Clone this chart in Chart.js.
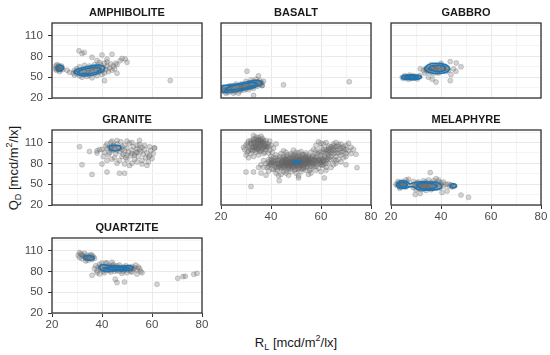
<!DOCTYPE html>
<html>
<head>
<meta charset="utf-8">
<script src="https://cdn.jsdelivr.net/npm/chart.js@4.4.1/dist/chart.umd.min.js"></script>
<style>
  body { margin: 0; background: #fff; }
  #wrap { position: relative; width: 550px; height: 355px; overflow: hidden; font-family: "Liberation Sans", Arial, sans-serif; }
  #wrap canvas { position: absolute; }
  .axis-title { position: absolute; font-size: 13px; color: #1a1a1a; white-space: nowrap; line-height: 1; }
  .axis-title sub, .axis-title sup { font-size: 9px; line-height: 0; }
  #xTitle { left: 296px; top: 342px; transform: translate(-50%, -50%); }
  #yTitle { left: 13px; top: 168px; transform: translate(-50%, -50%) rotate(-90deg); }
</style>
</head>
<body>
<div id="wrap">
  <div class="axis-title" id="xTitle">R<sub>L</sub> [mcd/m<sup>2</sup>/lx]</div>
  <div class="axis-title" id="yTitle">Q<sub>D</sub> [mcd/m<sup>2</sup>/lx]</div>
</div>
<script>
const panelNames = ['AMPHIBOLITE', 'BASALT', 'GABBRO', 'GRANITE', 'LIMESTONE', 'MELAPHYRE', 'QUARTZITE'];
const xTicks = [20, 30, 40, 50, 60, 70, 80];
const xLabels = [20, 40, 60, 80];
const yTicks = [20, 35, 50, 65, 80, 95, 110, 125];
const yLabels = [20, 50, 80, 110];

// points, [R_L, Q_D]
const amphibolitePts = [
  [21.5,66],[22,63],[22.5,61],[23,65],[23.5,62],[22,68],[21.8,60],[24,64],[23,58],[22.6,67],[24.3,61],[21.4,62],[23.8,66],[22.3,64.5],[23.2,60.5],
  [28.5,56],[29,53],[29.5,58],[30,55],[30.5,60],[31,52],[31.5,57],[32,61],[32.5,54],[33,58],[33.5,63],[34,56],[34.5,60],[35,53],[35.5,62],
  [36,58],[36.5,64],[37,55],[37.5,60],[38,66],[38.5,57],[39,62],[39.5,68],[40,59],[40.5,64],[41,70],[41.5,61],[42,66],[42.5,58],[43,63],
  [30,62],[31,65],[32,50],[33,67],[34,51],[35,66],[36,49],[37,68],[38,52],[39,71],[40,54],[41,56],[42,72],[43.5,69],[44,60],[44.5,66],
  [45,62],[33,54],[35,57],[37,63],[39,60],[36,61],[34,59],[38,62],[40,62],[29,60],[27,57],[26,60],[45.5,70],[46,68],
  [30.8,88],[32,84],[32.9,85.7],[36,78.6],[40,82],[44,83],[47.3,73.8],[49.3,76],[48,77],[46,55.7],[67.3,45.2],[41,45],[50,71.4],[42,76],[38,74]
];
const basaltPts = [
  [20.5,30],[21,33],[21.5,29],[22,35],[22.5,31],[23,28],[23.5,34],[24,30],[24.5,36],[25,32],[25.5,29],[26,35],[26.5,38],[27,33],[27.5,30],
  [28,37],[28.5,34],[29,40],[29.5,36],[30,33],[30.5,39],[31,42],[31.5,37],[32,35],[32.5,41],[33,44],[33.5,39],[34,43],[34.5,37],[35,41],
  [35.5,45],[36,40],[36.5,38],[21,36],[22,32],[23,37],[24,33],[25,27],[26,31],[27,36],[28,32],[29,35],[30,38],[31,35],[32,39],[33,37],
  [34,40],[35,43],[36.3,42],[24,38],[26,40],[28,40],[30,44],[32,46],[34,47],[27,27],[29,31],[31,32],[33,34],[22,27],[20.8,32],[25,34],
  [23,32],[28,35],[31,38],
  [30.4,58.6],[33,23.8],[45,39],[71.3,43.3],[36.4,38],[35,52],[37,44]
];
const gabbroPts = [
  [24.5,50],[25,48],[25.5,52],[26,49],[26.5,51],[27,47],[27.5,53],[28,50],[28.5,48],[29,52],[29.5,49],[30,51],[30.5,47.5],[31,50],[31.5,52.5],
  [27,50.5],[28.5,51],[26,50],[29,50],[30,49],
  [33,60],[34,63],[34.5,58],[35,65],[35.5,61],[36,57],[36.5,64],[37,60],[37.5,67],[38,62],[38.5,58],[39,65],[39.5,61],[40,68],[40.5,63],
  [41,59],[41.5,66],[42,62],[42.5,64],[43,60],[36,62],[38,64],[40,61],[37,63],[39,60],[35,60],[41,63],[38,66],[34,61],[42,58],[36,68],
  [39,56],[37,55],[33.5,56],[40,70],
  [43.7,72.4],[46.1,70.5],[48,65],[44,53.8],[46,58.6],[43.7,45],[38,43],[35,50],[31.7,62],[45,62],[36.5,47]
];
const granitePts = [
  [40,100],[41,96],[41.5,105],[42,108],[42.5,92],[43,103],[43.5,110],[44,98],[44.5,106],[45,101],[45.5,94],[46,108],[46.5,103],[47,97],
  [47.5,111],[48,100],[48.5,93],[49,106],[49.5,88],[50,102],[50.5,96],[51,109],[51.5,91],[52,99],[52.5,104],[53,86],[53.5,95],[54,101],
  [54.5,90],[55,107],[55.5,97],[56,84],[56.5,93],[57,100],[57.5,88],[58,95],[58.5,82],[59,91],[59.5,98],[60,87],[60.5,94],[61,102],
  [44,112],[46,113],[50,112],[52,110],[54,106],[56,103],[48,90],[50,85],[52,80],[54,82],[56,79],[58,77],[47,84],[45,88],[43,95],[42,101],
  [44,104],[46,99],[48,104],[50,92],[52,94],[54,96],[44,86],[42,84],[40.5,90],[39,100],[38,98],[46,80],[49,79],[51,77],[53,92],[55,100],
  [57,106],[59,104],[43.5,100],[45,105],[47,102],[49,98],
  [32,78],[31,104],[36,64],[42,67.6],[47,65.7],[49,65.7],[38,94.8],[55,113],[61,102],[58.7,89],[35,97],[40,79]
];
const limestonePts = [
  [29.5,100],[30,106],[30.5,96],[31,112],[31.5,102],[32,108],[32.5,98],[33,115],[33.5,104],[34,110],[34.5,100],[35,117],[35.5,106],[36,112],
  [36.5,102],[37,109],[37.5,96],[38,113],[38.5,104],[39,108],[39.5,99],[40,106],[30,92],[31,88],[32,94],[33,90],[34,96],[35,92],[36,98],
  [37,94],[38,100],[39,95],[33,120],[34,118],[36,119],[32,113],[34,105],[35,110],[36,105],[37,113],[33,108],[35,101],[31,98],[29,103],
  [38,109],[36.5,116],[34.5,113],[32.5,103],[37.5,104],[39.5,112],[35.5,97],[33.5,99],[30.5,109],[41,102],[42,108],[40.5,96],
  [32,100],[33,103],[34,107],[35,104],[36,108],[37,102],[38,106],[33,112],[34,115],[35,114],[36,110],[37,106],[32,110],[31,105],[34,101],
  [35,108],[36,100],[37,111],[33,110],[35,112],[38,103],[39,104],[34,103],[36,114],
  [38,80],[38.5,74],[39,85],[39.5,78],[40,82],[40.5,72],[41,88],[41.5,76],[42,84],[42.5,70],[43,79],[43.5,90],[44,74],[44.5,83],[45,68],
  [45.5,86],[46,77],[46.5,92],[47,72],[47.5,81],[48,88],[48.5,75],[49,84],[49.5,70],[50,79],[50.5,90],[51,74],[51.5,86],[52,78],[52.5,93],
  [53,72],[53.5,83],[54,89],[54.5,76],[55,85],[55.5,70],[56,80],[56.5,91],[57,75],[57.5,86],[58,79],[58.5,94],[59,73],[59.5,84],[60,88],
  [60.5,77],[61,82],[61.5,90],[62,74],[62.5,86],[63,80],[64,85],[65,78],
  [39,76],[40,86],[41,80],[42,74],[43,84],[44,78],[45,88],[46,82],[47,76],[48,80],[49,90],[50,84],[51,78],[52,82],[53,88],[54,80],[55,78],
  [56,86],[57,82],[58,84],[59,80],[60,82],[61,86],[62,80],
  [40,78],[41,84],[42,80],[43,76],[44,86],[45,80],[46,74],[47,86],[48,78],[49,82],[50,76],[51,82],[52,88],[53,78],[54,84],[55,90],[56,76],
  [57,80],[58,88],[59,86],[60,80],[61,78],[62,84],[63,88],
  [44,82],[45,84],[46,80],[47,82],[48,84],[49,78],[50,82],[51,86],[52,80],[53,84],[54,78],[55,82],[46,86],[48,76],[50,88],[52,76],[54,86],
  [45,78],[47,79],[49,87],[51,80],[53,81],[55,86],[50,80],[50.5,83],[49.5,81],[51.5,82],[48.5,80],
  [43,80],[44,76],[45,82],[46,78],[47,84],[48,82],[49,76],[50,86],[51,84],[52,86],[53,76],[54,82],[55,80],[56,84],[57,78],[58,82],[44,80],
  [46,84],[48,86],[50,78],[52,84],[54,88],[56,82],[45,76],[47,78],[49,80],[51,76],[53,86],[55,84],[57,84],[43,86],[45,90],[47,88],[49,92],
  [51,90],[53,92],[55,88],[57,90],[42,78],[44,72],[46,70],[48,72],[50,72],[52,72],[54,74],[56,72],[58,76],[60,78],[59,84],[61,84],[41,82],
  [42,88],[40,80],[39,82],[43,74],[45,74],[47,74],[49,74],[51,72],[53,74],[46,90],[48,92],[50,92],[52,90],[54,92],[56,88],[58,90],[60,86],
  [62,88],[47,81],[49,83],[51,81],[53,79],[55,81],[46,81],[48,81],[52,81],[50,81],
  [42,66],[44,64],[46,66],[48,68],[50,66],[52,68],[54,70],[56,66],[58,70],[43,62],[47,63],[51,62],[55,64],[60,68],[62,70],[41,71],[39,69],
  [37,74],[36,78],[37,84],[64,74],[66,80],[65,86],
  [44,94],[46,96],[48,94],[50,96],[52,97],[54,95],[56,96],[42,92],[40,90],[58,98],[60,96],[62,94],[45,98],[49,99],[51,95],
  [57,100],[58,106],[59,96],[60,103],[61,108],[62,98],[63,105],[64,101],[65,94],[66,99],[67,104],[68,96],[69,101],[70,106],[71,98],[72,103],
  [73,100],[66,90],[67,86],[68,92],[69,88],[70,94],[64,90],[63,92],[65,108],[62,110],[60,109],[59,111],[66,110],[68,108],[71,109],[70,90],
  [72,94],[74,93],[68,82],[66,84],[63,96],[61,100],[60,92],[65,99],[67,95],[64,97],
  [62,100],[63,102],[64,104],[65,102],[66,104],[67,100],[68,102],[69,97],[64,94],[66,95],[61,96],[63,99],[65,105],[67,107],[69,104],[70,100],
  [30,67.6],[32,46.7],[33,67.6],[74.4,73.8],[61.3,59],[43.3,55],[51,59],[35,74],[36,66],[38,63],[70,78]
];
const melaphyrePts = [
  [22,50],[22.5,48],[23,52],[23.5,46],[24,50],[24.5,54],[25,48],[25.5,51],[26,46],[26.5,53],[23,49],[24,47],[25,52],[22.8,54],[24.2,51],
  [25.8,49],[26,56],[23.5,44],
  [28,48],[29,45],[29.5,50],[30,47],[30.5,52],[31,44],[31.5,49],[32,46],[32.5,51],[33,43],[33.5,48],[34,53],[34.5,45],[35,50],[35.5,47],
  [36,52],[36.5,44],[37,49],[37.5,46],[38,51],[38.5,47],[39,53],[39.5,45],[40,49],[30,49],[31,47],[32,50],[33,46],[34,49],[35,44],[36,48],
  [37,51],[38,45],[31,53],[33,55],[35,56],[37,55],[32,42],[34,41],[36,42],[30,42],[29,54],[39,56],[40,52],[41,47],[42,50],[33,50],[35,48],
  [31,49.5],[34,47],
  [43.5,47],[44,49],[44.5,46],[45,48],[45.5,47.5],[43,50],
  [35.7,66.7],[48,34.3],[51,31],[29.7,35],[31.7,36.7],[40.4,38],[42.4,40],[38,58],[27,57],[41,53]
];
const quartzitePts = [
  [30.5,103],[31,100],[31.5,105],[32,98],[32.5,102],[33,106],[33.5,99],[34,103],[34.5,96],[35,100],[35.5,104],[36,97],[36.5,101],[37,99],
  [33,101],[34,98],[35,102],[32,104],[36,103],[34.5,100],[33.5,95],[31,107],
  [37,84],[37.5,88],[38,81],[38.5,86],[39,90],[39.5,83],[40,87],[40.5,80],[41,85],[41.5,92],[42,82],[42.5,88],[43,84],[43.5,79],[44,86],
  [44.5,90],[45,83],[45.5,87],[46,81],[46.5,85],[47,89],[47.5,83],[48,86],[48.5,80],[49,84],[49.5,88],[50,82],[50.5,86],[51,84],[51.5,80],
  [52,87],[52.5,83],[53,85],[53.5,89],[54,82],[54.5,86],[55,84],[55.5,80],[40,84],[42,86],[44,83],[46,84],[48,83],[50,85],[52,84],[41,82],
  [43,87],[45,85],[47,84],[49,86],[51,82],[45,80],[43,81],[47,80],[42,92],[44,93],[40,92],[38,78],[39,76],[41,78],[48,77],[50,78],[52,79],
  [46,88],[49,82],[44,88],
  [36,74.3],[46,63.8],[49,64.8],[62,61.4],[70.3,70],[72.4,72.4],[73.3,72.9],[76.7,75.7],[78,77],[45.3,68.6],[56,78],[54,76]
];

// density contour rings
const amphiboliteRings = [
  [[21.6,63],[22,66],[23,67.5],[24.2,66],[24.6,63],[24,60],[23,59],[22,60],[21.6,63]],
  [[28.5,57],[31,53],[35,52.5],[38,55],[40.5,59],[41,64],[39.5,67],[36,66.5],[33,64],[30,61],[28.5,57]],
  [[30,57],[32,55],[35,55],[38,57.5],[39.5,61],[38.5,64],[35.5,63.5],[32,60.5],[30,57]]
];
const basaltRings = [
  [[20.3,29],[23,28],[28,31],[33,35],[36,39],[36.5,43],[34,45.5],[29,42],[24,39],[20.5,37],[20.3,29]],
  [[21.5,31],[26,32],[31,35.5],[34.5,39.5],[33,42.5],[28,39.5],[23,36],[21.5,31]]
];
const gabbroRings = [
  [[24,50],[25,47.5],[28,46.5],[31,47.5],[32.2,50],[31,52.5],[28,53.5],[25,52.5],[24,50]],
  [[25.5,50],[28,48],[30.8,50],[28,52],[25.5,50]],
  [[33.3,62],[35,57],[38.5,55],[42,57],[43.5,62],[42,67.5],[38.5,70],[35,68],[33.3,62]],
  [[35,62],[38.5,58],[41.5,60],[41.5,65],[38.5,67],[35.5,65],[35,62]]
];
const graniteRings = [
  [[42.8,102],[43.5,99],[46,98.5],[47.5,101],[47.3,105],[45,106],[43,105],[42.8,102]]
];
const limestoneRings = [
  [[48.7,81.5],[50,80.3],[51.8,81],[51.8,82.6],[50,83.2],[48.7,82.5],[48.7,81.5]],
  [[49.5,81.7],[50.5,81.3],[51,82],[50,82.4],[49.5,81.7]]
];
const melaphyreRings = [
  [[22,49],[23,45],[25.5,44],[27.5,46.5],[29,46],[31,42],[35,41.5],[39,42.5],[40.3,46],[39.5,51],[36,53],[32,53.5],[29,52],[27.5,50.5],[26,54],[23.5,54.5],[22,49]],
  [[23,49],[24.5,46],[26.5,48],[25.5,52],[23.5,52],[23,49]],
  [[30,48],[32,44],[37,44],[38.5,48],[36,51],[32,51.5],[30,48]],
  [[43.4,47],[44.5,44.8],[46.1,46.5],[45.8,49.5],[44.2,50.2],[43.4,47]]
];
const quartziteRings = [
  [[32.5,100],[33.5,97],[35.5,96],[36.8,98],[36.5,101.5],[34.5,102.5],[33,102],[32.5,100]],
  [[38.5,86],[40,89.5],[43,88],[48,87.5],[51.5,88],[52.5,85],[51.5,81.5],[47,81],[43,80],[40,81],[38.5,86]],
  [[40.5,85],[43,83],[48,83],[51,84],[48,86],[43,86],[40.5,85]]
];

const panels = [
  { name: panelNames[0], pts: amphibolitePts, rings: amphiboliteRings, col: 0, row: 0, xl: false, yl: true },
  { name: panelNames[1], pts: basaltPts, rings: basaltRings, col: 1, row: 0, xl: false, yl: false },
  { name: panelNames[2], pts: gabbroPts, rings: gabbroRings, col: 2, row: 0, xl: false, yl: false },
  { name: panelNames[3], pts: granitePts, rings: graniteRings, col: 0, row: 1, xl: false, yl: true },
  { name: panelNames[4], pts: limestonePts, rings: limestoneRings, col: 1, row: 1, xl: true, yl: false },
  { name: panelNames[5], pts: melaphyrePts, rings: melaphyreRings, col: 2, row: 1, xl: true, yl: false },
  { name: panelNames[6], pts: quartzitePts, rings: quartziteRings, col: 0, row: 2, xl: true, yl: true },
];

const colLeft = [52, 221, 391];
const rowTop = [23, 130, 238];
const PW = 150, PH = 75;
const PL = 40, PT = 22, PR = 12, PB = 22;
const FONT = '"Liberation Sans", Arial, sans-serif';
const BLUE = '#1f74b1';

const isMajor = (c, list) => c.tick && list.includes(c.tick.value);

// panel frame and strip label
const frame = {
  id: 'frame',
  afterDraw(chart, args, opts) {
    const { ctx, chartArea: a } = chart;
    ctx.save();
    ctx.strokeStyle = '#333333';
    ctx.lineWidth = 1.3;
    ctx.strokeRect(a.left, a.top, a.right - a.left, a.bottom - a.top);
    ctx.fillStyle = '#1a1a1a';
    ctx.font = 'bold 11px ' + FONT;
    ctx.textAlign = 'center';
    ctx.textBaseline = 'middle';
    ctx.fillText(opts.label, (a.left + a.right) / 2, a.top - 10.5);
    ctx.restore();
  }
};

const wrap = document.getElementById('wrap');

panels.forEach(p => {
  const cv = document.createElement('canvas');
  cv.width = PL + PW + PR;
  cv.height = PT + PH + PB;
  cv.style.left = (colLeft[p.col] - PL) + 'px';
  cv.style.top = (rowTop[p.row] - PT) + 'px';
  wrap.appendChild(cv);

  const datasets = p.rings.map(r => ({
    data: r.map(([x, y]) => ({ x, y })),
    showLine: true,
    pointRadius: 0,
    borderColor: BLUE,
    borderWidth: 1.7,
    tension: 0.3,
    fill: false,
    order: 1
  }));
  datasets.push({
    data: p.pts.map(([x, y]) => ({ x, y })),
    pointRadius: 2.5,
    backgroundColor: 'rgba(100,100,100,0.28)',
    borderColor: 'rgba(100,100,100,0.32)',
    borderWidth: 0.8,
    order: 2
  });

  new Chart(cv, {
    type: 'scatter',
    data: { datasets },
    plugins: [frame],
    options: {
      responsive: false,
      animation: false,
      events: [],
      devicePixelRatio: 1,
      layout: { padding: { top: PT, right: PR, left: 0, bottom: 0 } },
      plugins: {
        legend: { display: false },
        tooltip: { enabled: false },
        frame: { label: p.name }
      },
      scales: {
        x: {
          type: 'linear',
          min: 20,
          max: 80,
          afterBuildTicks: s => { s.ticks = xTicks.map(v => ({ value: v })); },
          afterFit: s => { s.height = PB; },
          border: { display: false },
          grid: {
            color: c => isMajor(c, xLabels) ? '#e9e9e9' : '#f4f4f4',
            drawTicks: p.xl,
            tickLength: 4,
            tickColor: c => isMajor(c, xLabels) ? '#333333' : 'rgba(0,0,0,0)'
          },
          ticks: {
            display: p.xl,
            autoSkip: false,
            maxRotation: 0,
            padding: 1,
            color: '#4d4d4d',
            font: { size: 11.5, family: FONT },
            callback: v => xLabels.includes(v) ? v : ''
          }
        },
        y: {
          type: 'linear',
          min: 20,
          max: 128,
          afterBuildTicks: s => { s.ticks = yTicks.map(v => ({ value: v })); },
          afterFit: s => { s.width = PL; },
          border: { display: false },
          grid: {
            color: c => isMajor(c, yLabels) ? '#e9e9e9' : '#f4f4f4',
            drawTicks: p.yl,
            tickLength: 4,
            tickColor: c => isMajor(c, yLabels) ? '#333333' : 'rgba(0,0,0,0)'
          },
          ticks: {
            display: p.yl,
            autoSkip: false,
            padding: 5,
            color: '#4d4d4d',
            font: { size: 11.5, family: FONT },
            callback: v => yLabels.includes(v) ? v : ''
          }
        }
      }
    }
  });
});
</script>
</body>
</html>
